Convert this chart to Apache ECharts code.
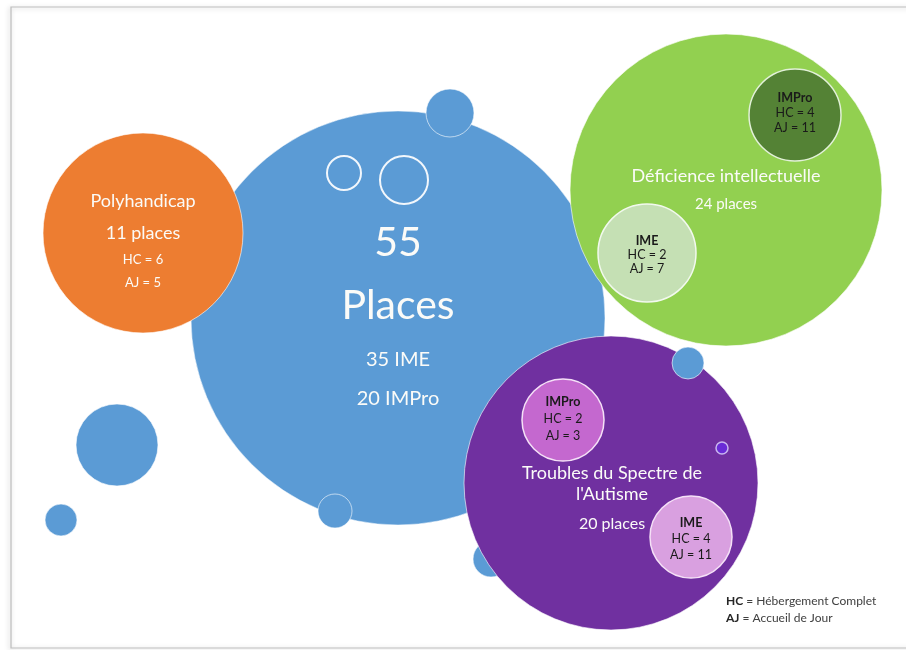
<!DOCTYPE html>
<html>
<head>
<meta charset="utf-8">
<script src="https://cdn.jsdelivr.net/npm/echarts@6/dist/echarts.min.js"></script>
<style>html,body{margin:0;padding:0;background:#fff}#c{width:906px;height:650px}</style>
</head>
<body>
<div id="c"></div>
<script>
// ---- data ----
const totalPlaces = 55;
const totalIME = 35;
const totalIMPro = 20;
const groupNames = ['Polyhandicap', 'Déficience intellectuelle', "Troubles du Spectre de\nl'Autisme"];
const groupPlaces = [11, 24, 20];
const polyHC = 6, polyAJ = 5;
const subNames = ['IMPro', 'IME', 'IMPro', 'IME'];   // DI IMPro, DI IME, TSA IMPro, TSA IME
const subHC = [4, 2, 2, 4];
const subAJ = [11, 7, 3, 11];
const legendLines = [['HC', 'Hébergement Complet'], ['AJ', 'Accueil de Jour']];

// bubbles in drawing order
const bubbleKind = ['deco','deco','deco','main','deco','ring','ring','deco','poly','di','diImpro','diIme','tsa','deco','dot','tsaImpro','tsaIme'];
const bubbleX    = [117, 61, 491, 398, 450, 344, 404, 335, 143, 726, 795, 647, 611, 688, 722, 563, 691];
const bubbleY    = [445, 520, 559, 318, 113, 173, 180, 511, 233, 190, 115, 253, 483, 363, 448, 420, 537];
const bubbleR    = [41, 16, 18, 207, 24, 17, 24, 17, 100, 156, 46, 49, 147, 16, 6, 41, 41];

// ---- styles ----
const FONT = 'Lato, "Open Sans", sans-serif';
const fill = {
  deco: '#5B9BD5', ring: '#5B9BD5', main: '#5B9BD5', poly: '#ED7D31', di: '#92D050',
  diImpro: '#548235', diIme: '#C5E0B4', tsa: '#7030A0', dot: '#6A2BD6',
  tsaImpro: '#C468CF', tsaIme: '#D9A0E0'
};
const stroke = {
  deco: 'rgba(255,255,255,0.6)', ring: '#F2F7FC', main: 'rgba(255,255,255,0.5)', poly: 'rgba(255,255,255,0.6)',
  di: 'rgba(255,255,255,0.6)', diImpro: '#E2F0D9', diIme: '#F2F9EE', tsa: 'rgba(255,255,255,0.6)',
  dot: '#C9B5F0', tsaImpro: '#F5E1F7', tsaIme: '#F5E1F7'
};
const strokeW = { ring: 2, diImpro: 1.5, diIme: 1.5, tsaImpro: 1.5, tsaIme: 1.5, dot: 1.5 };

function subLabel(i) {
  return '{h|' + subNames[i] + '}\n{k|HC = ' + subHC[i] + '}\n{k|AJ = ' + subAJ[i] + '}';
}
function labelFor(kind) {
  const W = '#FBFBF8', D = '#1A1A1A';
  const subRich = (lh) => ({
    h: { fontFamily: FONT, fontSize: 12.5, fontWeight: 'bold', color: D, lineHeight: lh },
    k: { fontFamily: FONT, fontSize: 12.5, color: D, lineHeight: lh }
  });
  switch (kind) {
    case 'main': return {
      show: true, position: 'inside', offset: [0, -1.5],
      formatter: '{a|' + totalPlaces + '}\n{b|Places}\n{c|' + totalIME + ' IME}\n{c|' + totalIMPro + ' IMPro}',
      rich: {
        a: { fontFamily: FONT, fontSize: 41, color: W, lineHeight: 57 },
        b: { fontFamily: FONT, fontSize: 41, color: W, lineHeight: 69 },
        c: { fontFamily: FONT, fontSize: 20, color: W, lineHeight: 39 }
      }
    };
    case 'poly': return {
      show: true, position: 'inside', offset: [0, 6],
      formatter: '{t|' + groupNames[0] + '}\n{u|' + groupPlaces[0] + ' places}\n{s|HC = ' + polyHC + '}\n{s|AJ = ' + polyAJ + '}',
      rich: {
        t: { fontFamily: FONT, fontSize: 18, color: W, lineHeight: 35 },
        u: { fontFamily: FONT, fontSize: 18, color: W, lineHeight: 29 },
        s: { fontFamily: FONT, fontSize: 13, color: W, lineHeight: 23 }
      }
    };
    case 'di': return {
      show: true, position: 'inside', offset: [0, 0],
      formatter: '{t|' + groupNames[1] + '}\n{p|' + groupPlaces[1] + ' places}',
      rich: {
        t: { fontFamily: FONT, fontSize: 18, color: W, lineHeight: 28 },
        p: { fontFamily: FONT, fontSize: 15, color: W, lineHeight: 28 }
      }
    };
    case 'tsa': {
      const parts = groupNames[2].split('\n');
      return {
        show: true, position: 'inside', offset: [1, 20],
        formatter: '{t|' + parts[0] + '}\n{t|' + parts[1] + '}\n{p|' + groupPlaces[2] + ' places}',
        rich: {
          t: { fontFamily: FONT, fontSize: 18, color: W, lineHeight: 21 },
          p: { fontFamily: FONT, fontSize: 16, color: W, lineHeight: 39 }
        }
      };
    }
    case 'diImpro': return { show: true, position: 'inside', offset: [0, -2], formatter: subLabel(0), rich: subRich(15) };
    case 'diIme':   return { show: true, position: 'inside', offset: [0, 2], formatter: subLabel(1), rich: subRich(14) };
    case 'tsaImpro':return { show: true, position: 'inside', offset: [0, -1], formatter: subLabel(2), rich: subRich(17) };
    case 'tsaIme':  return { show: true, position: 'inside', offset: [0, 2], formatter: subLabel(3), rich: subRich(16) };
    default: return { show: false };
  }
}

const seriesData = bubbleKind.map((k, i) => ({
  value: [bubbleX[i], bubbleY[i], bubbleR[i]],
  itemStyle: { color: fill[k], opacity: 1, borderColor: stroke[k], borderWidth: strokeW[k] || 1 },
  label: labelFor(k)
}));

const chart = echarts.init(document.getElementById('c'), null, { renderer: 'canvas' });
chart.setOption({
  animation: false,
  backgroundColor: '#ffffff',
  grid: { left: 0, right: 0, top: 0, bottom: 0 },
  xAxis: { type: 'value', min: 0, max: 906, show: false },
  yAxis: { type: 'value', min: 0, max: 650, inverse: true, show: false },
  graphic: [
    {
      type: 'rect', z: 0, silent: true,
      shape: { x: 11, y: 7, width: 905, height: 641 },
      style: { fill: 'none', stroke: '#BDBDBD', lineWidth: 1.2, shadowBlur: 5, shadowColor: 'rgba(0,0,0,0.25)', shadowOffsetX: -1, shadowOffsetY: 1 }
    },
    {
      type: 'text', z: 10, left: 726, top: 593,
      style: {
        text: legendLines.map(l => '{b|' + l[0] + '} = ' + l[1]).join('\n'),
        font: '12px ' + FONT, fill: '#404040', lineHeight: 17,
        rich: { b: { fontFamily: FONT, fontSize: 12, fontWeight: 'bold', fill: '#262626', lineHeight: 17 } }
      }
    }
  ],
  series: [{
    type: 'scatter',
    symbol: 'circle',
    symbolSize: v => v[2] * 2,
    itemStyle: { opacity: 1 },
    data: seriesData,
    emphasis: { disabled: true }
  }]
});
</script>
</body>
</html>
